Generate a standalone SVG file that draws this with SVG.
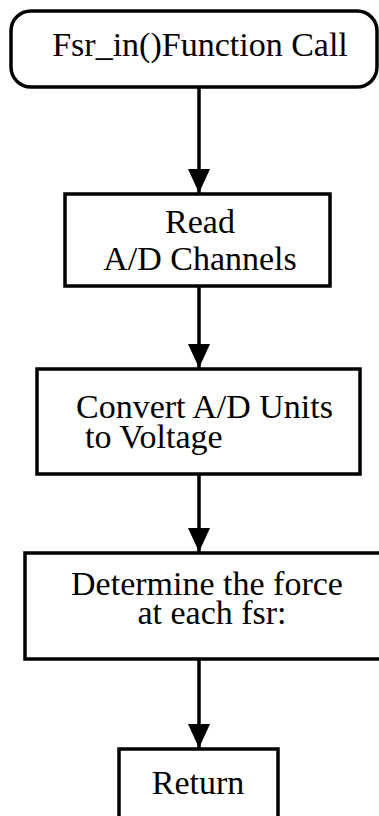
<svg xmlns="http://www.w3.org/2000/svg" width="379" height="816" viewBox="0 0 379 816">
<defs>
<style>
.box{fill:#fff;stroke:#000;stroke-width:3.5}
.lbl{font-family:"Liberation Serif","Times New Roman",serif;font-size:34px;fill:#000}
.c{text-anchor:middle}
.edge{stroke:#000;stroke-width:3.5;fill:none}
</style>
<marker id="ah" markerUnits="userSpaceOnUse" markerWidth="26" markerHeight="24" viewBox="0 0 26 24" refX="25" refY="12" orient="auto">
<path d="M1,1 L25,12 L1,23 Z" fill="#000"/>
</marker>
</defs>
<rect width="379" height="816" fill="#fff"/>
<g id="connectors">
<line class="edge" x1="199" y1="88" x2="199" y2="193" marker-end="url(#ah)"/>
<line class="edge" x1="199" y1="287" x2="199" y2="368" marker-end="url(#ah)"/>
<line class="edge" x1="199" y1="474" x2="199" y2="552" marker-end="url(#ah)"/>
<line class="edge" x1="199" y1="660" x2="199" y2="748" marker-end="url(#ah)"/>
</g>
<g id="n1">
<rect class="box" x="11" y="11" width="366" height="76" rx="20" ry="20"/>
<text class="lbl c" x="200" y="56">Fsr_in()Function Call</text>
</g>
<g id="n2">
<rect class="box" x="65" y="194" width="265" height="92"/>
<text class="lbl c" x="200" y="233">Read</text>
<text class="lbl c" x="200" y="270">A/D Channels</text>
</g>
<g id="n3">
<rect class="box" x="37" y="369" width="323" height="105"/>
<text class="lbl" x="76" y="418">Convert A/D Units</text>
<text class="lbl" x="85" y="448">to Voltage</text>
</g>
<g id="n4">
<rect class="box" x="25" y="553" width="362" height="106"/>
<text class="lbl c" x="207" y="595">Determine the force</text>
<text class="lbl c" x="212" y="624">at each fsr:</text>
</g>
<g id="n5">
<rect class="box" x="119" y="749" width="159" height="80"/>
<text class="lbl c" x="198" y="794">Return</text>
</g>
</svg>
